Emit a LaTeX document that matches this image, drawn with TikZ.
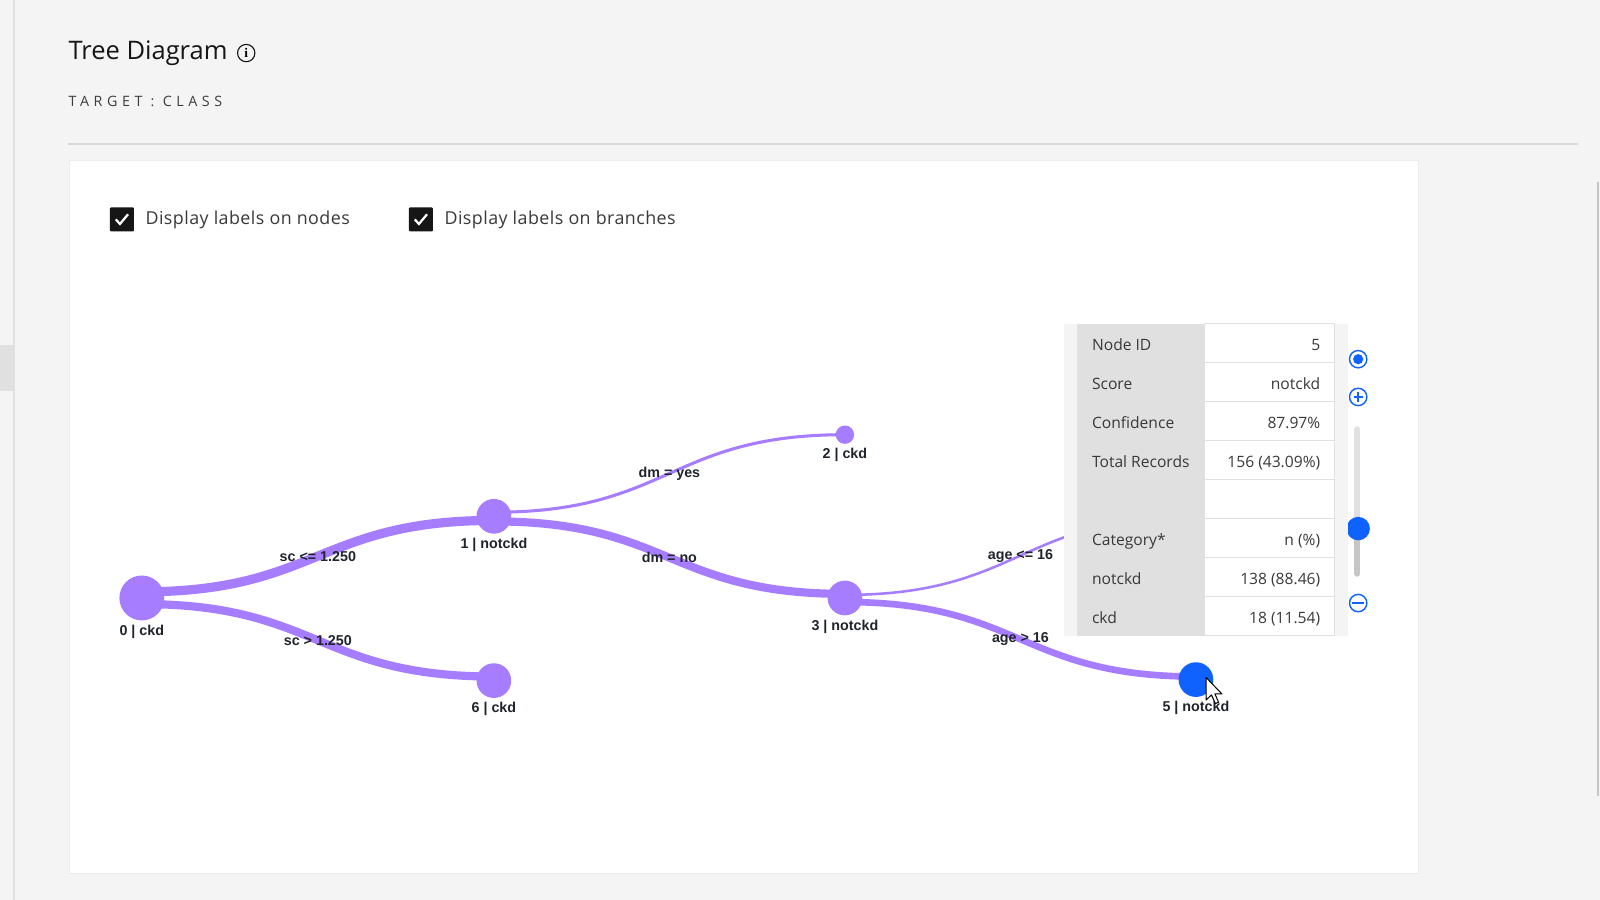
\documentclass[tikz,border=0pt]{standalone}
\usepackage{fontspec}
\setmainfont{Open Sans}
\newfontfamily\treefont{Liberation Sans}
\newfontfamily\iconfont{Liberation Serif}
\usetikzlibrary{positioning}
\definecolor{pagegrey}{HTML}{F4F4F4}
\definecolor{rulegrey}{HTML}{D8D8D8}
\definecolor{cellgrey}{HTML}{E0E0E0}
\definecolor{trackgrey}{HTML}{C6C6C6}
\definecolor{treepurple}{HTML}{A77DFF}
\definecolor{pickblue}{HTML}{0F62FE}
\definecolor{inkgrey}{HTML}{161616}
\definecolor{softgrey}{HTML}{3D3D3D}
\definecolor{tipink}{HTML}{393939}
\definecolor{tagink}{HTML}{20242C}
\pgfdeclarelayer{back}
\pgfdeclarelayer{links}
\pgfsetlayers{back,links,main}
\tikzset{
  treenode/.style = {circle, inner sep=0pt, fill=treepurple, minimum size=34pt},
  rootnode/.style = {treenode, minimum size=44pt},
  leafnode/.style = {treenode, minimum size=18pt},
  picknode/.style = {treenode, fill=pickblue},
  nodetag/.style = {font=\treefont\bfseries\fontsize{14}{16}\selectfont, text=tagink, inner sep=0pt},
  branch/.style = {draw=treepurple, line width=#1, out=0, in=180, looseness=1.25},
  branch/.default = 8pt,
  tickbox/.style = {rectangle, fill=inkgrey, rounded corners=1pt, minimum size=23.5pt, inner sep=0pt},
  optiontext/.style = {font=\addfontfeatures{LetterSpace=2.5}\fontsize{17.5}{21}\selectfont, text=tipink, inner sep=0pt},
  valcell/.style = {rectangle, draw=cellgrey, fill=white, line width=1pt, minimum width=127.5pt, minimum height=38.2pt, inner sep=0pt},
  tiptext/.style = {font=\fontsize{15.3}{18}\selectfont, text=tipink, inner sep=0pt, text height=10.5pt, text depth=3pt},
  ctrlring/.style = {circle, draw=pickblue, line width=1.4pt, minimum size=17pt, inner sep=0pt}
}
\begin{document}
\begin{tikzpicture}[x=1pt, y=-1pt]
\useasboundingbox (0,0) rectangle (1568,882);
\begin{pgfonlayer}{back}
  \fill[pagegrey] (0,0) rectangle (1568,882);
  \draw[cellgrey, line width=1.5pt] (13.5,0) -- (13.5,882);
  \fill[cellgrey] (0,338) rectangle (13,383);
  \draw[rulegrey, line width=2pt] (67,141.5) -- (1546,141.5);
  \draw[trackgrey, line width=2pt] (1566,178) -- (1566,780);
  \filldraw[fill=white, draw=cellgrey!60] (68,157) rectangle (1390,856);
\end{pgfonlayer}

\node[anchor=west, font=\fontsize{25}{30}\selectfont, text=inkgrey, inner sep=0pt] (title) at (67,52) {Tree Diagram};
\node[circle, draw=inkgrey, line width=1.1pt, minimum size=17pt, inner sep=0pt, right=9pt of title,
  font=\iconfont\bfseries\fontsize{13}{13}\selectfont] (info) {i};
\node[anchor=west, font=\addfontfeatures{LetterSpace=32}\fontsize{14}{16}\selectfont, text=softgrey, inner sep=0pt] (target) at (67,99) {TARGET : CLASS};

\node[tickbox] (box1) at (119.5,215) {};
\node[optiontext, right=11pt of box1] (opt1) {Display labels on nodes};
\node[tickbox] (box2) at (412.5,215) {};
\node[optiontext, right=11pt of box2] (opt2) {Display labels on branches};
\foreach \b in {box1,box2}
  \draw[white, line width=2.2pt] ([shift={(-6,0)}]\b.center) -- ++(4,4.5) -- ++(8,-9.5);

\node[rootnode] (n0) at (139,586) {};
\node[treenode] (n1) at (484,506) {};
\node[leafnode] (n2) at (828,426) {};
\node[treenode] (n3) at (828,586) {};
\node[treenode] (n6) at (484,667) {};
\node[picknode] (n5) at (1172,666) {};
\coordinate (n4) at (1172,506);

\node[nodetag, below=4pt of n0] (tag0) {0 | ckd};
\node[nodetag, below=4pt of n1] (tag1) {1 | notckd};
\node[nodetag, below=4pt of n2] (tag2) {2 | ckd};
\node[nodetag, below=4pt of n3] (tag3) {3 | notckd};
\node[nodetag, below=4pt of n6] (tag6) {6 | ckd};
\node[nodetag, below=4pt of n5] (tag5) {5 | notckd};

\begin{pgfonlayer}{links}
  \draw[branch=9pt] ([yshift=6pt]n0.center) to node[nodetag] {sc <= 1.250} ([yshift=-4pt]n1.center);
  \draw[branch=8pt] ([yshift=-6pt]n0.center) to node[nodetag] {sc > 1.250} ([yshift=4pt]n6.center);
  \draw[branch=3pt] ([yshift=4pt]n1.center) to node[nodetag] {dm = yes} (n2.center);
  \draw[branch=8pt] ([yshift=-5pt]n1.center) to node[nodetag] {dm = no} ([yshift=4pt]n3.center);
  \draw[branch=2.5pt] ([yshift=3pt]n3.center) to node[nodetag] {age <= 16} (n4);
  \draw[branch=6.5pt] ([yshift=-4pt]n3.center) to node[nodetag] {age > 16} ([yshift=3pt]n5.center);
\end{pgfonlayer}

\draw[cellgrey, line width=6.5pt, line cap=round] (1330,421) -- (1330,518);
\draw[trackgrey, line width=6.5pt, line cap=round] (1330,518) -- (1330,562);
\node[circle, fill=pickblue, minimum size=23pt, inner sep=0pt] (knob) at (1331,518) {};

\fill[pagegrey] (1043,317.5) rectangle (1321,623.5);
\fill[cellgrey] (1055,317.5) rectangle (1180,623.5);
\foreach \lab/\val [count=\i] in {Node ID/5, Score/notckd, Confidence/87.97\%, Total Records/156 (43.09\%), {}/{}, Category*/n (\%), notckd/138 (88.46), ckd/18 (11.54)} {
  \node[valcell] (cell\i) at (1243.75,{317.5+38.2*(\i-0.5)}) {};
  \node[tiptext, anchor=west] (key\i) at (1070,{321+38.2*(\i-0.5)}) {\lab};
  \node[tiptext, anchor=east] (val\i) at ([xshift=-14pt, yshift=-3.5pt]cell\i.east) {\val};
}

\node[ctrlring] (recentre) at (1331,352) {};
\fill[pickblue] (recentre.center) circle (5pt);
\node[ctrlring] (zoomin) at (1331,389) {};
\draw[pickblue, line width=1.4pt] ([xshift=-4.5pt]zoomin.center) -- ([xshift=4.5pt]zoomin.center)
  ([yshift=-4.5pt]zoomin.center) -- ([yshift=4.5pt]zoomin.center);
\node[ctrlring] (zoomout) at (1331,591) {};
\draw[pickblue, line width=1.4pt] ([xshift=-6pt]zoomout.center) -- ([xshift=6pt]zoomout.center);

\draw[fill=white, line width=1pt, line join=round] (1182,664) -- (1182,686) -- (1187.2,681) -- (1191,689.5)
  -- (1194.2,688.2) -- (1190.6,680) -- (1197.4,680) -- cycle;
\end{tikzpicture}
\end{document}
